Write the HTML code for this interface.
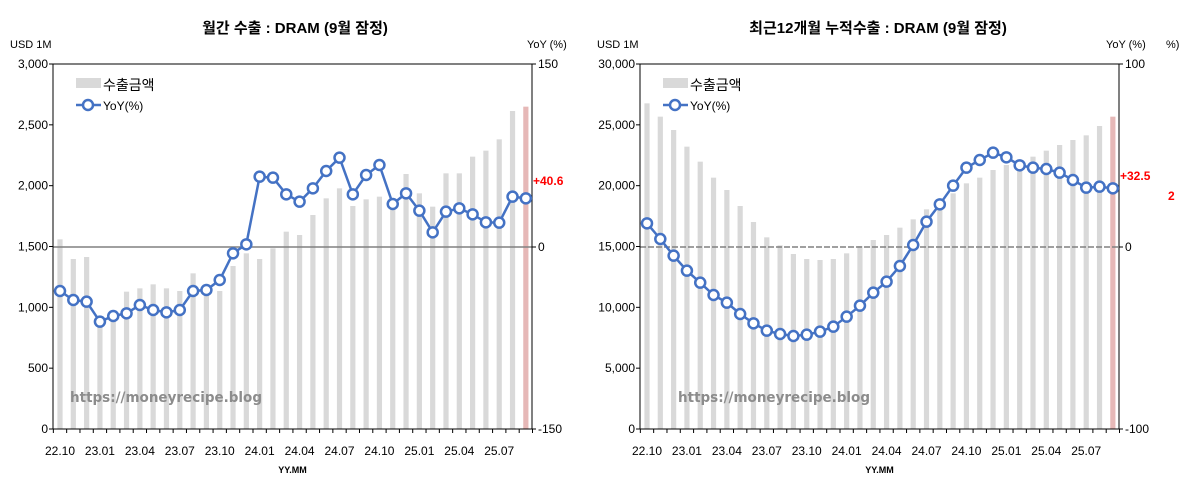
<!DOCTYPE html>
<html><head><meta charset="utf-8"><style>
body{margin:0;background:#fff;width:1200px;height:497px;overflow:hidden}
svg text{font-family:"Liberation Sans","Noto Sans CJK KR",sans-serif}
</style></head><body>
<svg id="s" width="1200" height="497" xmlns="http://www.w3.org/2000/svg"></svg>
<script>
const S=document.getElementById('s');let h='';
function chart(o){
 const L=o.x0,R=o.x1,T=64,B=429;
 h+=`<text x="${o.tx}" y="33" font-size="15" font-weight="bold" text-anchor="middle" fill="#000">${o.title}</text>`;
 h+=`<text x="${o.ux}" y="48" font-size="11" fill="#000">USD 1M</text>`;
 h+=`<text x="${o.yx}" y="48" font-size="11" fill="#000">YoY (%)</text>`;
 for(let i=0;i<36;i++){const cx=o.bx+i*13.31;const top=60+o.bars[i]/3;
  h+=`<rect x="${cx-2.6}" y="${top}" width="5.2" height="${B-top}" fill="${i==35?'#e6b8b7':'#d9d9d9'}"/>`;}
 h+=`<line x1="${L}" y1="247" x2="${R}" y2="247" stroke="#808080" stroke-width="1.5" ${o.dash?'stroke-dasharray="6,2"':''}/>`;
 h+=`<rect x="${L}" y="${T}" width="${R-L}" height="${B-T}" fill="none" stroke="#000" stroke-width="1"/>`;
 for(let k=0;k<=6;k++){const y=B-k*(B-T)/6;h+=`<line x1="${L-4}" y1="${y}" x2="${L}" y2="${y}" stroke="#000"/>`;
  h+=`<text x="${L-5}" y="${y+4}" font-size="12" text-anchor="end" fill="#000">${o.ylab[k]}</text>`;}
 [[T,o.r[0]],[247,o.r[1]],[B,o.r[2]]].forEach(([y,t])=>{h+=`<line x1="${R}" y1="${y}" x2="${R+4}" y2="${y}" stroke="#000"/><text x="${R+6}" y="${y+4}" font-size="12" fill="#000">${t}</text>`});
 for(let i=0;i<=36;i++){const x=o.bx-6.65+i*13.31;h+=`<line x1="${x}" y1="${B}" x2="${x}" y2="${B+4}" stroke="#000"/>`;}
 const labs=['22.10','23.01','23.04','23.07','23.10','24.01','24.04','24.07','24.10','25.01','25.04','25.07'];
 labs.forEach((t,j)=>{h+=`<text x="${o.bx+j*3*13.31}" y="455" font-size="12" text-anchor="middle" fill="#000">${t}</text>`});
 h+=`<text x="${(L+R)/2}" y="473" font-size="9" font-weight="bold" text-anchor="middle" fill="#000">YY.MM</text>`;
 let p=o.line.map((z,i)=>`${(o.bx+i*13.31).toFixed(1)},${(60+z/3).toFixed(1)}`).join(' ');
 h+=`<polyline points="${p}" fill="none" stroke="#4472c4" stroke-width="2.5"/>`;
 o.line.forEach((z,i)=>{h+=`<circle cx="${o.bx+i*13.31}" cy="${60+z/3}" r="5" fill="#fff" stroke="#4472c4" stroke-width="2.5"/>`});
 h+=`<rect x="${L+23}" y="78" width="25" height="10" fill="#d9d9d9"/><text x="${L+50}" y="90" font-size="14" fill="#000">수출금액</text>`;
 h+=`<line x1="${L+23}" y1="105" x2="${L+48}" y2="105" stroke="#4472c4" stroke-width="2.5"/><circle cx="${L+35}" cy="105" r="5" fill="#fff" stroke="#4472c4" stroke-width="2.5"/><text x="${L+50}" y="110" font-size="12" fill="#000">YoY(%)</text>`;
 h+=`<text x="${o.wx}" y="402" font-size="14" font-weight="bold" fill="#8c8c8c" style="font-family:'DejaVu Sans',sans-serif" textLength="192" lengthAdjust="spacingAndGlyphs">https://moneyrecipe.blog</text>`;
 h+=`<text x="${R+1}" y="${o.ry}" font-size="12" font-weight="bold" fill="#ff0000">${o.red}</text>`;
}
chart({x0:53,x1:532,bx:60,tx:295,title:'월간 수출 : DRAM (9월 잠정)',ux:10,yx:527,
 ylab:['0','500','1,000','1,500','2,000','2,500','3,000'],r:['150','0','-150'],wx:70,red:'+40.6',ry:185,
 bars:[538,597,591,800,780,695,685,673,685,693,640,700,693,618,580,597,565,515,525,465,415,385,438,418,410,430,342,400,440,340,340,290,272,238,153,140],
 line:[693,720,725,785,768,760,735,750,757,750,693,690,660,580,553,350,353,403,425,385,333,293,403,345,315,432,400,452,517,455,445,463,487,488,410,415]});
chart({x0:640,x1:1119,bx:647,tx:878,title:'최근12개월 누적수출 : DRAM (9월 잠정)',ux:597,yx:1106,dash:true,
 ylab:['0','5,000','10,000','15,000','20,000','25,000','30,000'],r:['100','0','-100'],wx:678,red:'+32.5',ry:180,
 bars:[130,170,210,260,305,353,390,438,486,532,556,582,597,600,597,580,558,540,525,503,478,448,420,400,370,353,330,315,300,290,272,255,240,226,198,170],
 line:[490,537,587,632,668,705,728,762,790,812,822,828,824,815,800,770,737,698,665,618,555,485,433,377,323,300,278,292,316,323,327,338,360,383,380,385]});
h+=`<text x="1166" y="48" font-size="11" fill="#000">%)</text><text x="1168" y="200" font-size="12" font-weight="bold" fill="#ff0000">2</text>`;
S.innerHTML=h;
</script>
</body></html>
